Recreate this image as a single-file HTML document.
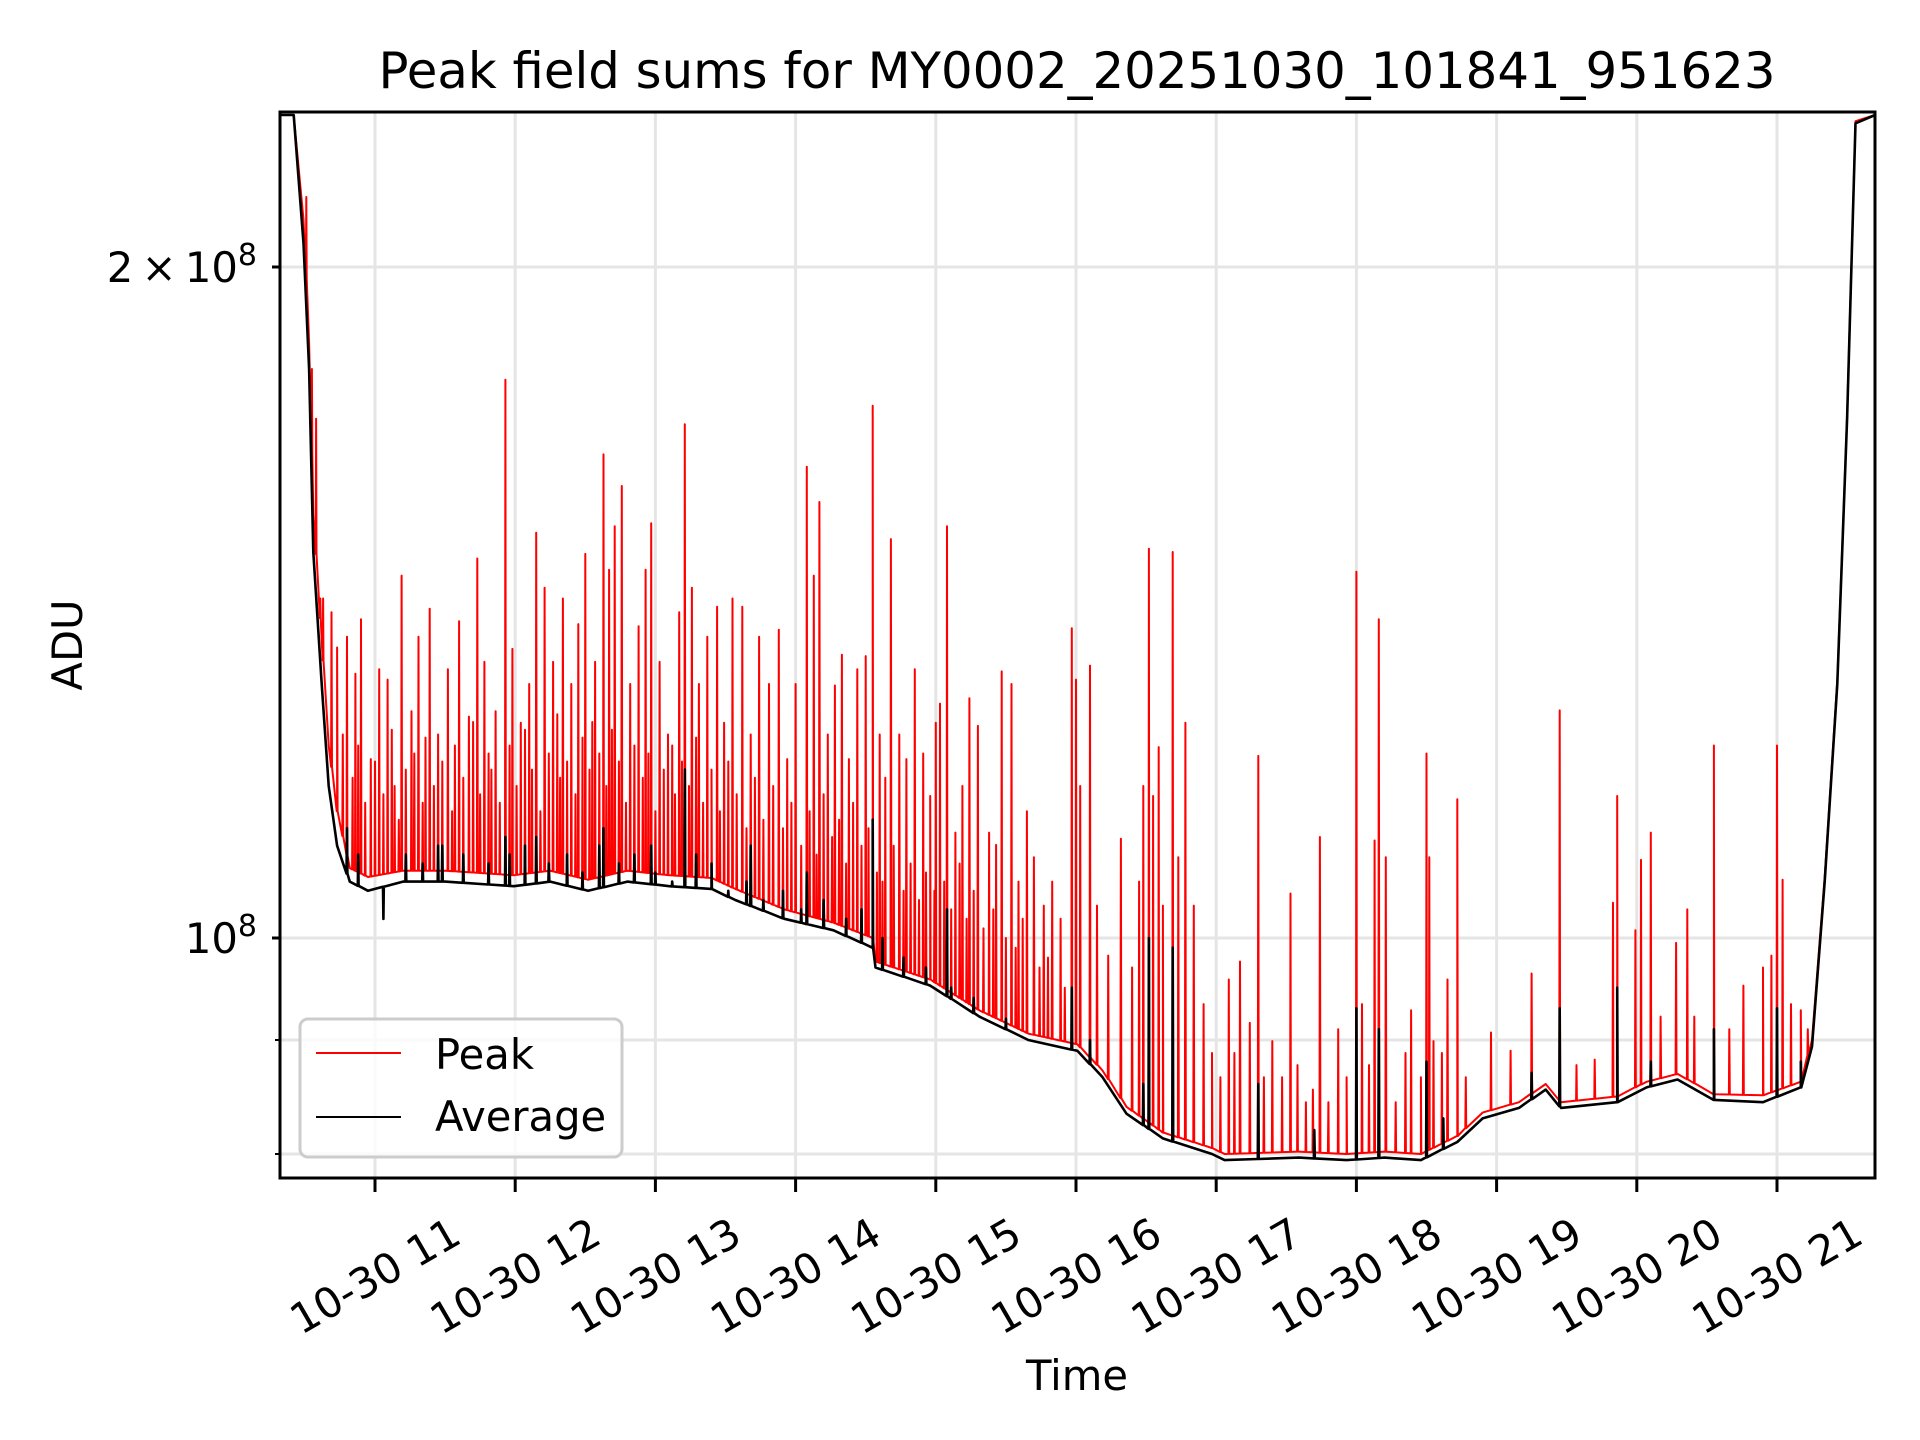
<!DOCTYPE html>
<html><head><meta charset="utf-8"><style>
html,body{margin:0;padding:0;background:#fff}
svg{display:block;font-family:"DejaVu Sans","Liberation Sans",sans-serif}
</style></head><body>
<svg id="chart" width="1920" height="1440" viewBox="0 0 1920 1440" xmlns="http://www.w3.org/2000/svg">
<rect width="1920" height="1440" fill="#fff"/>
<defs><clipPath id="plotclip"><rect x="280" y="112" width="1595" height="1066"/></clipPath></defs>
<g id="grid"></g>
<g id="series" clip-path="url(#plotclip)"></g>
<rect x="280" y="112" width="1595" height="1066" fill="none" stroke="#000" stroke-width="3"/>
<g id="ticks"></g>
<text x="1077" y="88" font-size="50" text-anchor="middle" textLength="1397" lengthAdjust="spacingAndGlyphs">Peak field sums for MY0002_20251030_101841_951623</text>
<text x="1077" y="1390" font-size="41.7" text-anchor="middle">Time</text>
<text transform="translate(82,645) rotate(-90)" font-size="41.7" text-anchor="middle">ADU</text>
<g>
<rect x="300" y="1019" width="322" height="138" rx="8" fill="#fff" fill-opacity="0.8" stroke="#cccccc" stroke-width="3"/>
<line x1="316" y1="1053" x2="401" y2="1053" stroke="#ff0000" stroke-width="2"/>
<text x="435" y="1069" font-size="41.7">Peak</text>
<line x1="316" y1="1117" x2="401" y2="1117" stroke="#000" stroke-width="2"/>
<text x="435" y="1131" font-size="41.7">Average</text>
</g>
</svg>
<script>
// data (time in hours of 2025-10-30, values in units of 1e8 ADU)
const xTickHours = [11,12,13,14,15,16,17,18,19,20,21];
const xTickLabels = ["10-30 11","10-30 12","10-30 13","10-30 14","10-30 15","10-30 16","10-30 17","10-30 18","10-30 19","10-30 20","10-30 21"];
const yMajorTicks = [1, 2];
const yMinorTicks = [0.8, 0.9];
const baseT = [10.31,10.42,10.49,10.53,10.56,10.62,10.67,10.73,10.82,10.95,11.2,11.5,11.99,12.25,12.52,12.8,13.1,13.4,13.57,13.92,14.27,14.55,14.57,14.96,15.31,15.66,16.01,16.19,16.36,16.62,16.97,17.06,17.59,17.93,18.2,18.46,18.72,18.9,19.16,19.35,19.46,19.86,20.07,20.29,20.55,20.9,21.17,21.25,21.34,21.43,21.50,21.56,21.70];
const avgBaseV = [2.34,2.34,2.05,1.80,1.49,1.30,1.17,1.10,1.06,1.05,1.06,1.06,1.055,1.06,1.05,1.06,1.055,1.052,1.04,1.02,1.008,0.99,0.97,0.952,0.922,0.90,0.89,0.866,0.834,0.813,0.80,0.795,0.797,0.795,0.797,0.795,0.81,0.83,0.839,0.855,0.839,0.844,0.857,0.864,0.846,0.844,0.857,0.894,1.06,1.30,1.71,2.32,2.34];
const peakBaseV = [2.34,2.34,2.1,1.85,1.55,1.36,1.22,1.14,1.075,1.065,1.072,1.072,1.067,1.072,1.062,1.072,1.067,1.064,1.052,1.03,1.016,1.0,0.976,0.958,0.928,0.906,0.896,0.872,0.84,0.818,0.805,0.8,0.802,0.8,0.802,0.8,0.815,0.835,0.844,0.86,0.844,0.849,0.862,0.869,0.851,0.85,0.862,0.9,1.065,1.305,1.715,2.325,2.34];
const peakSpikeT = [10.51,10.55,10.58,10.61,10.63,10.69,10.73,10.77,10.80,10.86,10.90,10.97,11.03,11.09,11.14,11.19,11.26,11.31,11.39,11.45,11.52,11.60,11.67,11.73,11.78,11.86,11.93,11.98,12.04,12.10,12.15,12.21,12.27,12.34,12.40,12.45,12.50,12.57,12.63,12.67,12.71,12.76,12.82,12.88,12.93,12.97,13.03,13.09,13.17,13.21,13.26,13.31,13.37,13.44,13.49,13.55,13.62,13.68,13.74,13.81,13.88,13.94,14.00,14.08,14.13,14.17,14.23,14.28,14.33,14.38,14.44,14.50,14.55,14.60,14.64,14.68,14.74,14.79,14.85,14.91,14.96,15.00,15.03,15.08,15.14,15.19,15.24,15.30,15.38,15.43,15.47,15.54,15.59,15.65,15.70,15.77,15.83,15.89,15.97,16.00,16.03,16.10,16.15,16.23,16.32,16.40,16.45,16.48,16.52,16.55,16.59,16.62,16.69,16.73,16.78,16.84,16.91,16.97,17.03,17.09,17.13,17.17,17.24,17.30,17.34,17.40,17.47,17.53,17.58,17.64,17.69,17.74,17.80,17.87,17.93,18.00,18.04,18.09,18.13,18.16,18.21,18.28,18.35,18.39,18.46,18.50,18.52,18.55,18.61,18.65,18.72,18.78,18.96,19.10,19.25,19.45,19.57,19.70,19.83,19.86,19.99,20.03,20.10,20.17,20.28,20.36,20.41,20.55,20.66,20.76,20.90,20.96,21.00,21.04,21.10,21.17,21.22,
10.84,10.88,10.93,11.00,11.06,11.12,11.17,11.22,11.28,11.34,11.36,11.42,11.48,11.55,11.57,11.63,11.70,11.75,11.81,11.83,11.89,11.96,12.01,12.07,12.12,12.18,12.24,12.30,12.32,12.37,12.43,12.48,12.53,12.55,12.60,12.65,12.69,12.74,12.79,12.85,12.91,12.95,13.00,13.06,13.12,13.14,13.19,13.24,13.29,13.34,13.40,13.46,13.52,13.58,13.65,13.71,13.77,13.84,13.91,13.97,14.04,14.10,14.15,14.20,14.26,14.31,14.36,14.41,14.47,14.52,14.58,14.62,14.70,14.77,14.82,14.88,14.93,14.99,15.06,15.11,15.17,15.22,15.27,15.34,15.41,15.50,15.57,15.62,15.74,15.80,15.92];
const peakSpikeV = [2.15,1.80,1.71,1.42,1.42,1.40,1.35,1.234,1.365,1.314,1.39,1.203,1.32,1.306,1.17,1.454,1.264,1.365,1.405,1.234,1.32,1.387,1.257,1.48,1.33,1.264,1.78,1.348,1.249,1.30,1.52,1.436,1.33,1.42,1.30,1.383,1.487,1.33,1.648,1.463,1.53,1.595,1.30,1.38,1.463,1.535,1.33,1.234,1.40,1.70,1.436,1.30,1.365,1.408,1.249,1.42,1.408,1.234,1.365,1.30,1.375,1.203,1.30,1.627,1.454,1.569,1.234,1.298,1.34,1.203,1.32,1.338,1.733,1.234,1.18,1.51,1.234,1.203,1.32,1.21,1.158,1.249,1.274,1.53,1.115,1.17,1.281,1.245,1.115,1.101,1.317,1.30,1.06,1.14,1.087,1.034,1.06,1.02,1.377,1.306,1.17,1.325,1.034,0.982,1.108,0.97,1.06,1.17,1.495,1.158,1.218,1.034,1.49,1.087,1.249,1.034,0.934,0.888,0.866,0.958,0.888,0.976,0.916,1.207,0.866,0.899,0.866,1.047,0.877,0.844,0.855,1.11,0.844,0.91,0.866,1.46,0.934,0.877,1.106,1.39,1.087,0.844,0.888,0.928,0.866,1.21,1.087,0.899,0.888,0.958,1.154,0.866,0.907,0.89,0.964,1.265,0.877,0.882,1.037,1.158,1.008,1.084,1.115,0.922,0.995,1.03,0.922,1.22,0.91,0.952,0.97,0.982,1.22,1.062,0.934,0.928,0.91,
1.18,1.22,1.15,1.20,1.16,1.24,1.13,1.19,1.21,1.15,1.23,1.17,1.20,1.14,1.22,1.18,1.25,1.16,1.21,1.19,1.15,1.22,1.17,1.24,1.19,1.14,1.21,1.26,1.18,1.20,1.16,1.23,1.19,1.25,1.21,1.17,1.24,1.20,1.15,1.22,1.18,1.21,1.14,1.19,1.22,1.16,1.20,1.17,1.23,1.15,1.19,1.14,1.20,1.16,1.12,1.18,1.13,1.17,1.12,1.15,1.10,1.14,1.09,1.16,1.11,1.13,1.08,1.15,1.10,1.12,1.07,1.06,1.10,1.05,1.08,1.04,1.07,1.05,1.06,1.03,1.08,1.02,1.05,1.01,1.03,1.00,0.99,1.02,0.97,0.98,0.95];
const avgSpikeT = [10.80,11.45,11.93,12.15,12.63,12.97,13.21,13.68,14.08,14.55,15.08,15.97,16.52,16.69,17.30,18.00,18.16,18.50,19.45,19.86,20.55,21.00,
10.88,11.06,11.22,11.34,11.48,11.63,11.81,11.96,12.07,12.24,12.37,12.48,12.60,12.74,12.85,13.00,13.12,13.29,13.40,13.52,13.65,13.77,13.91,14.04,14.20,14.36,14.47,14.62,14.77,14.93,15.11,15.27,15.50,16.10,16.48,17.70,18.62,19.25,20.10,21.17];
const avgSpikeV = [1.12,1.10,1.11,1.11,1.12,1.10,1.19,1.10,1.07,1.13,1.03,0.95,1.0,0.99,0.86,0.93,0.91,0.88,0.93,0.95,0.91,0.93,
1.09,1.02,1.09,1.08,1.10,1.09,1.08,1.09,1.10,1.08,1.09,1.07,1.10,1.08,1.09,1.07,1.06,1.09,1.08,1.05,1.06,1.04,1.05,1.03,1.04,1.02,1.03,1.00,0.98,0.97,0.95,0.94,0.92,0.90,0.86,0.82,0.83,0.87,0.88,0.88];

const NS = "http://www.w3.org/2000/svg";
const L = 280, R = 1875, T = 112, B = 1178;
function xScale(t){ return 375 + (t - 11) * 140.2; }
function yScale(v){ return 938 - Math.log10(v) * 2229; }
function interp(ts, vs, t){
  for (let i = 1; i < ts.length; i++) if (t <= ts[i]) { const f = (t - ts[i-1]) / (ts[i] - ts[i-1]); return vs[i-1] + f * (vs[i] - vs[i-1]); }
  return vs[vs.length-1];
}
function buildPath(ts, vs, st, sv){
  const pts = ts.map((t,i)=>[t, vs[i]]);
  st.forEach((t,i)=>{ const b = interp(ts, vs, t); pts.push([t-0.003,b],[t,sv[i]],[t+0.003,b]); });
  pts.sort((a,b)=>a[0]-b[0]);
  return pts.map((p,i)=>(i?'L':'M')+xScale(p[0]).toFixed(1)+','+yScale(p[1]).toFixed(1)).join('');
}
const grid = document.getElementById('grid'), ticks = document.getElementById('ticks'), series = document.getElementById('series');
function mk(tag, attrs, parent){ const e = document.createElementNS(NS, tag); for (const k in attrs) e.setAttribute(k, attrs[k]); parent.appendChild(e); return e; }

xTickHours.forEach((h,i)=>{
  const x = xScale(h);
  const g = mk('line', {x1:x, y1:T, x2:x, y2:B, stroke:'#e5e5e5', 'stroke-width':3}, grid);
  
  
  const tk = mk('line', {x1:x, y1:B, x2:x, y2:B+14, stroke:'#000', 'stroke-width':3}, ticks);
  
  
  const tx = mk('text', {transform:'translate('+x+',1276) rotate(-30)', 'font-size':41.7, 'text-anchor':'middle', 'dominant-baseline':'central'}, ticks);
  tx.textContent = xTickLabels[i];
  
  
});
yMajorTicks.concat(yMinorTicks).forEach(v=>{
  const y = yScale(v);
  const g = mk('line', {x1:L, y1:y, x2:R, y2:y, stroke:'#e5e5e5', 'stroke-width':3}, grid);
  
  
  const major = yMajorTicks.includes(v);
  const tk = mk('line', {x1:L-(major?8:5), y1:y, x2:L, y2:y, stroke:'#000', 'stroke-width':major?3:2}, ticks);
  
  
});
{
  const t1 = mk('text', {x:257, y:yScale(2)+15, 'font-size':41.7, 'text-anchor':'end'}, ticks);
  t1.innerHTML = '2\u2009\u00d7\u200910<tspan dy="-17" font-size="30">8</tspan>';
  
  
  const t2 = mk('text', {x:257, y:yScale(1)+15, 'font-size':41.7, 'text-anchor':'end'}, ticks);
  t2.innerHTML = '10<tspan dy="-17" font-size="30">8</tspan>';
  
  
}
const peak = mk('path', {d:buildPath(baseT, peakBaseV, peakSpikeT, peakSpikeV), fill:'none', stroke:'#ff0000', 'stroke-width':2, 'stroke-linejoin':'round'}, series);


const avg = mk('path', {d:buildPath(baseT, avgBaseV, avgSpikeT, avgSpikeV), fill:'none', stroke:'#000', 'stroke-width':2.6, 'stroke-linejoin':'round'}, series);


</script>
</body></html>
